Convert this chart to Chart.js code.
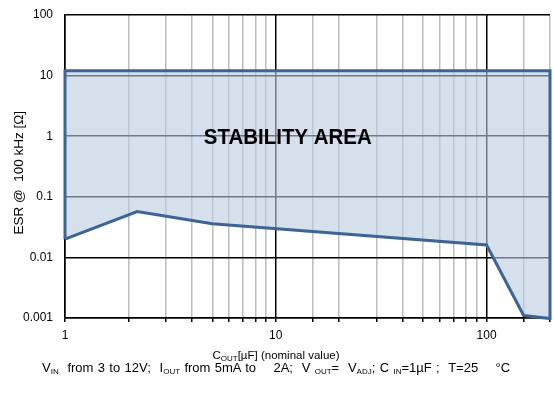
<!DOCTYPE html>
<html><head><meta charset="utf-8">
<script src="https://cdn.jsdelivr.net/npm/chart.js@4"></script>
<style>
html,body{margin:0;padding:0;background:#fff;}
#wrap{position:relative;width:554px;height:393px;font-family:"Liberation Sans",Arial,sans-serif;color:#000;}
canvas{position:absolute;left:0;top:0;}
.t{position:absolute;white-space:pre;line-height:14px;}
sub{font-size:8px;vertical-align:-2px;line-height:0;}
</style></head>
<body><div id="wrap"><canvas id="c" width="554" height="393"></canvas>
<div class="t" id="xt" style="left:0;width:552px;text-align:center;top:348px;font-size:11.5px;">C<sub>OUT</sub>[µF] (nominal value)</div>
<div class="t" id="cap" style="left:42px;top:361px;font-size:13px;word-spacing:0.75px;">V<sub>IN</sub>  from 3 to 12V;  I<sub>OUT</sub> from 5mA to    2A;  V <sub>OUT</sub>=  V<sub>ADJ</sub>; C <sub>IN</sub>=1µF ;  T=25    °C</div>
</div>
<script>
const capX = [1, 2.2, 5, 100, 150, 200];          // C_OUT [µF]
const esrMin = [0.02, 0.057, 0.036, 0.016, 0.0011, 0.00098]; // lower ESR limit [Ω]
const esrMax = 12;                                // upper ESR limit [Ω]
const xMajor = [1, 10, 100];
const yTicks = [0.001, 0.01, 0.1, 1, 10, 100];
const yLabels = ['0.001', '0.01', '0.1', '1', '10', '100'];
const areaLabel = 'STABILITY AREA';
const yTitle = 'ESR @  100 kHz [Ω]';

const poly = capX.map((x, i) => ({x: x, y: esrMin[i]}));
poly.push({x: capX[capX.length - 1], y: esrMax});
poly.push({x: capX[0], y: esrMax});
poly.push({x: capX[0], y: esrMin[0]});

const textPlugin = {
  id: 'texts',
  afterDatasetsDraw(chart) {
    const ctx = chart.ctx, xs = chart.scales.x, ys = chart.scales.y;
    ctx.save();
    ctx.font = 'bold 22px "Liberation Sans", Arial, sans-serif';
    ctx.fillStyle = '#000';
    ctx.textAlign = 'center';
    ctx.textBaseline = 'middle';
    ctx.translate(xs.getPixelForValue(11.4), ys.getPixelForValue(0.92));
    ctx.scale(0.93, 1);
    ctx.fillText(areaLabel, 0, 0);
    ctx.restore();
  },
  afterDraw(chart) {
    const ctx = chart.ctx, ys = chart.scales.y;
    ctx.save();
    ctx.font = '13.5px "Liberation Sans", Arial, sans-serif';
    ctx.fillStyle = '#000';
    ctx.textAlign = 'center';
    ctx.textBaseline = 'middle';
    ctx.translate(19, ys.getPixelForValue(0.25));
    ctx.rotate(-Math.PI / 2);
    ctx.fillText(yTitle, 0, 0);
    ctx.restore();
  }
};

new Chart(document.getElementById('c'), {
  type: 'line',
  data: { datasets: [{
    data: poly,
    borderColor: '#3c6494',
    borderWidth: 3,
    backgroundColor: 'rgba(186,202,224,0.6)',
    fill: 'shape',
    pointRadius: 0,
    tension: 0,
    clip: false
  }]},
  options: {
    responsive: false,
    animation: false,
    layout: { padding: { top: 15, right: 4, left: 0, bottom: 0 } },
    plugins: { legend: { display: false }, tooltip: { enabled: false } },
    scales: {
      x: {
        type: 'logarithmic', min: 1, max: 200,
        afterFit(s) { s.height = 75; s.paddingLeft = 0; s.paddingRight = 0; },
        border: { color: '#000', width: 1.5 },
        grid: {
          color: c => (c.tick && xMajor.includes(c.tick.value)) ? '#000' : '#bdbdbd',
          lineWidth: 1.5,
          tickColor: '#000',
          tickLength: 4
        },
        ticks: {
          autoSkip: false, maxRotation: 0, padding: 6,
          color: '#000',
          font: { family: '"Liberation Sans", Arial, sans-serif', size: 12 },
          callback: (v) => xMajor.includes(v) ? String(v) : ''
        }
      },
      y: {
        type: 'logarithmic', min: 0.001, max: 100,
        afterFit(s) { s.width = 65; s.paddingTop = 0; s.paddingBottom = 0; },
        afterBuildTicks(s) { s.ticks = yTicks.map(v => ({value: v})); },
        border: { color: '#000', width: 1.5 },
        grid: { color: '#000', lineWidth: 1.5, drawTicks: false },
        ticks: {
          padding: 12, color: '#000',
          font: { family: '"Liberation Sans", Arial, sans-serif', size: 12 },
          callback: (v) => { const i = yTicks.findIndex(t => Math.abs(t - v) / t < 1e-6); return i >= 0 ? yLabels[i] : ''; }
        }
      }
    }
  },
  plugins: [textPlugin]
});
</script></body></html>
